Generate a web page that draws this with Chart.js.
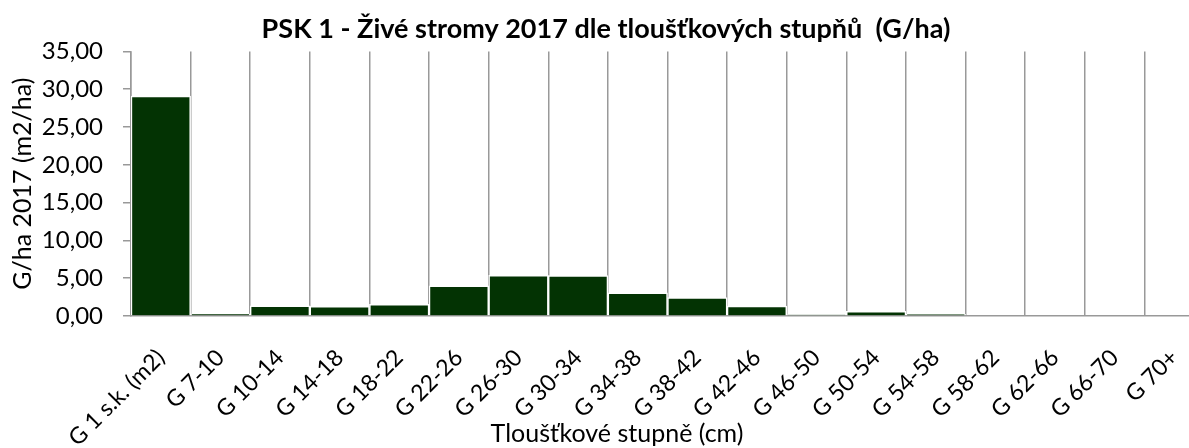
<!DOCTYPE html>
<html>
<head>
<meta charset="utf-8">
<script src="https://cdn.jsdelivr.net/npm/chart.js@4.4.1/dist/chart.umd.min.js"></script>
<style>
    html, body { margin: 0; padding: 0; background: #fff; overflow: hidden; }
    #wrap { width: 1230px; height: 448px; }
</style>
</head>
<body>
<div id="wrap"><canvas id="chart" width="1230" height="448"></canvas></div>
<script>
// kategorie tloušťkových stupňů
const categories = ["G 1 s.k. (m2)", "G 7-10", "G 10-14", "G 14-18", "G 18-22", "G 22-26", "G 26-30", "G 30-34", "G 34-38",
    "G 38-42", "G 42-46", "G 46-50", "G 50-54", "G 54-58", "G 58-62", "G 62-66", "G 66-70", "G 70+"];
// G/ha 2017 (m2/ha)
const values = [29.1, 0.3, 1.36, 1.27, 1.54, 3.99, 5.39, 5.36, 3.08, 2.44, 1.31, 0.14, 0.63, 0.23, 0, 0, 0, 0];
const yTicks = [0, 5, 10, 15, 20, 25, 30, 35];

const chartTitle = "PSK 1 - Živé stromy 2017 dle tloušťkových stupňů  (G/ha)";
const xTitle = "Tloušťkové stupně (cm)";
const yTitle = "G/ha 2017 (m2/ha)";

const FONT = "Lato, 'Noto Sans', sans-serif";

// x-axis title sits a bit left of the plot centre (like in Excel)
const xTitlePlugin = {
    id: "xTitle",
    afterDraw(chart) {
        const ctx = chart.ctx;
        ctx.save();
        ctx.font = "25px " + FONT;
        ctx.fillStyle = "#000";
        ctx.textAlign = "center";
        ctx.textBaseline = "alphabetic";
        ctx.fillText(xTitle, 617, 442);
        ctx.restore();
    }
};

new Chart(document.getElementById("chart"), {
    type: "bar",
    data: {
        labels: categories,
        datasets: [{
            label: yTitle,
            data: values,
            backgroundColor: "#033303",
            borderColor: "#ffffff",
            borderWidth: 1.5,
            borderSkipped: "start",
            barPercentage: 1,
            categoryPercentage: 1
        }]
    },
    options: {
        responsive: false,
        devicePixelRatio: 1,
        animation: false,
        layout: { padding: { left: 8, right: 26, top: 0, bottom: 0 } },
        plugins: {
            legend: { display: false },
            tooltip: { enabled: false },
            title: {
                display: true,
                text: chartTitle,
                color: "#000",
                font: { family: FONT, size: 27, weight: "bold" },
                padding: { top: 13, bottom: 6 }
            }
        },
        scales: {
            x: {
                offset: true,
                // labels hang below into the bottom area, the first one may go past the y axis
                afterFit: (s) => { s.height = 132; s.paddingLeft = 0; s.paddingRight = 0; },
                grid: {
                    offset: true,
                    color: "#999999",
                    lineWidth: 1.5,
                    drawTicks: false
                },
                border: { display: true, color: "#999999", width: 1.5 },
                ticks: {
                    color: "#000",
                    font: { family: FONT, size: 23 },
                    minRotation: 45,
                    maxRotation: 45,
                    autoSkip: false,
                    padding: 28
                }
            },
            y: {
                min: 0,
                max: 35,
                afterBuildTicks: (axis) => { axis.ticks = yTicks.map(v => ({ value: v })); },
                afterFit: (s) => { s.width = 123; },
                grid: {
                    drawOnChartArea: false,
                    drawTicks: true,
                    tickLength: 8,
                    color: "#999999",
                    lineWidth: 1.5
                },
                border: { display: true, color: "#999999", width: 1.5 },
                ticks: {
                    color: "#000",
                    font: { family: FONT, size: 24 },
                    padding: 20,
                    callback: (v) => v.toFixed(2).replace(".", ",")
                },
                title: {
                    display: true,
                    text: yTitle,
                    color: "#000",
                    font: { family: FONT, size: 25 },
                    padding: { top: 0, bottom: 5 }
                }
            }
        }
    },
    plugins: [xTitlePlugin]
});
</script>
</body>
</html>
